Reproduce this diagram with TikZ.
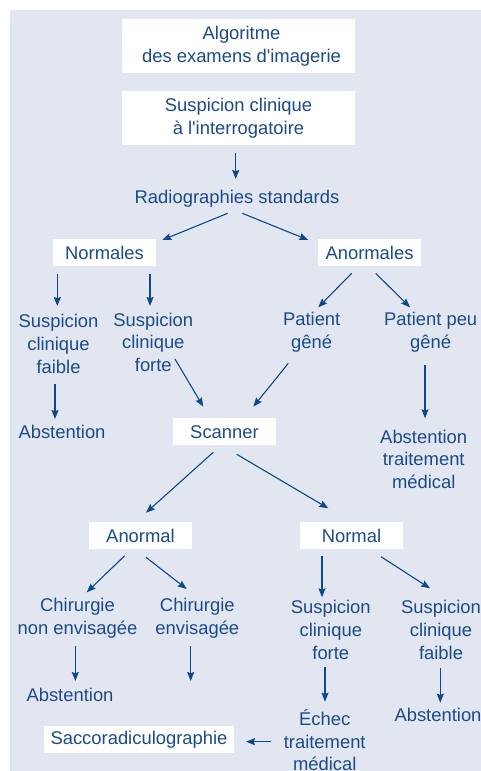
\documentclass[tikz,border=0pt]{standalone}
\usepackage{fontspec}
\setmainfont{Liberation Sans}
\usetikzlibrary{arrows.meta}
\definecolor{panel}{HTML}{E2E6F0}
\definecolor{ink}{HTML}{1B4B8A}
\definecolor{arrowblue}{HTML}{0E4A8B}
\begin{document}
\begin{tikzpicture}[x=1pt,y=-1pt,
  every node/.style={font=\fontsize{18.4}{22.6}\selectfont, text=ink, align=center, inner sep=0pt},
  whitebox/.style={fill=white, minimum width=103pt, minimum height=27pt},
  arr/.style={draw=arrowblue, line width=1.1pt, -{Stealth[length=9pt,width=7pt,inset=1.2pt]}}
]
\useasboundingbox (0,0) rectangle (481,771);
\fill[panel] (10,10) rectangle (481,771);

% header boxes
\node[whitebox, minimum width=233pt, minimum height=54pt] (title) at (238.5,46.3) {\hspace*{6pt}Algoritme\\\hspace*{6pt}des examens d\textquotesingle imagerie};
\node[whitebox, minimum width=233pt, minimum height=54pt] (susp) at (238.5,118) {Suspicion clinique\\à l\textquotesingle interrogatoire};
\node (radio) at (237,199) {Radiographies standards};

% first level
\node[whitebox] (normales) at (104.5,252.5) {Normales};
\node[whitebox] (anormales) at (369.5,252.5) {Anormales};

\node (faibleA) at (58.5,344) {Suspicion\\clinique\\faible};
\node (forteA) at (153.3,342.3) {Suspicion\\clinique\\forte};
\node (gene) at (311.7,332) {Patient\\gêné};
\node (peugene) at (430.7,332) {Patient peu\\gêné};

\node (abstA) at (62,431.5) {Abstention};
\node[whitebox] (scanner) at (224.5,431.7) {Scanner};
\node (medical) at (423.7,459.3) {Abstention\\traitement\\médical};

% second level
\node[whitebox] (anormal) at (140.5,535.7) {Anormal};
\node[whitebox] (normal) at (351.5,535.7) {Normal};

\node (nonenv) at (77.5,618.3) {Chirurgie\\non envisagée};
\node (env) at (197.3,618.3) {Chirurgie\\envisagée};
\node (forteB) at (330.8,630) {Suspicion\\clinique\\forte};
\node (faibleB) at (441,630) {Suspicion\\clinique\\faible};

\node (abstB) at (70,695) {Abstention};
\node (echec) at (324.7,740.5) {Échec\\traitement\\médical};
\node (abstC) at (438,714.5) {Abstention};
\node[whitebox, minimum width=190pt, minimum height=26.7pt] (sacco) at (139,739.4) {Saccoradiculographie};
\coordinate (envout) at (190.7,681);

% connectors
\draw[arr] ([shift={(-2.8,35)}]susp.center) -- ([shift={(-1.3,-20)}]radio.center);
\draw[arr] ([shift={(-9.3,14.3)}]radio.center) -- ([shift={(57.8,-12.5)}]normales.center);
\draw[arr] ([shift={(5.3,14.3)}]radio.center) -- ([shift={(-61.2,-12.5)}]anormales.center);

\draw[arr] ([shift={(-47.2,21.5)}]normales.center) -- ([shift={(-1.2,-38)}]faibleA.center);
\draw[arr] ([shift={(45.5,21.5)}]normales.center) -- ([shift={(-3.3,-36.3)}]forteA.center);
\draw[arr] ([shift={(-17.8,20.8)}]anormales.center) -- ([shift={(6.6,-24.7)}]gene.center);
\draw[arr] ([shift={(6.2,20.8)}]anormales.center) -- ([shift={(-20.7,-24.7)}]peugene.center);

\draw[arr] ([shift={(-3.5,40)}]faibleA.center) -- ([shift={(-7,-12.5)}]abstA.center);
\draw[arr] ([shift={(21.7,16.7)}]forteA.center) -- ([shift={(-21.2,-25)}]scanner.center);
\draw[arr] ([shift={(-23.4,31.3)}]gene.center) -- ([shift={(28.8,-25)}]scanner.center);
\draw[arr] ([shift={(-5.7,33)}]peugene.center) -- ([shift={(1.3,-41)}]medical.center);

\draw[arr] ([shift={(-11.2,20.6)}]scanner.center) -- ([shift={(5.5,-23)}]anormal.center);
\draw[arr] ([shift={(12.2,22.6)}]scanner.center) -- ([shift={(-23.2,-27.4)}]normal.center);

\draw[arr] ([shift={(-15.8,20)}]anormal.center) -- ([shift={(9.2,-26)}]nonenv.center);
\draw[arr] ([shift={(5.5,21.6)}]anormal.center) -- ([shift={(-10.6,-29.3)}]env.center);
\draw[arr] ([shift={(-29.5,20)}]normal.center) -- ([shift={(-8.8,-32.7)}]forteB.center);
\draw[arr] ([shift={(29.5,21)}]normal.center) -- ([shift={(-11,-41.7)}]faibleB.center);

\draw[arr] ([shift={(-2.2,27.7)}]nonenv.center) -- ([shift={(5.3,-14)}]abstB.center);
\draw[arr] ([shift={(-6.6,27.7)}]env.center) -- (envout);
\draw[arr] ([shift={(-5.8,37.3)}]forteB.center) -- ([shift={(0.3,-38.8)}]echec.center);
\draw[arr] ([shift={(-0.7,37.7)}]faibleB.center) -- ([shift={(2.3,-11.8)}]abstC.center);
\draw[arr] ([shift={(-54,1.2)}]echec.center) -- ([shift={(107,2.3)}]sacco.center);
\end{tikzpicture}
\end{document}
